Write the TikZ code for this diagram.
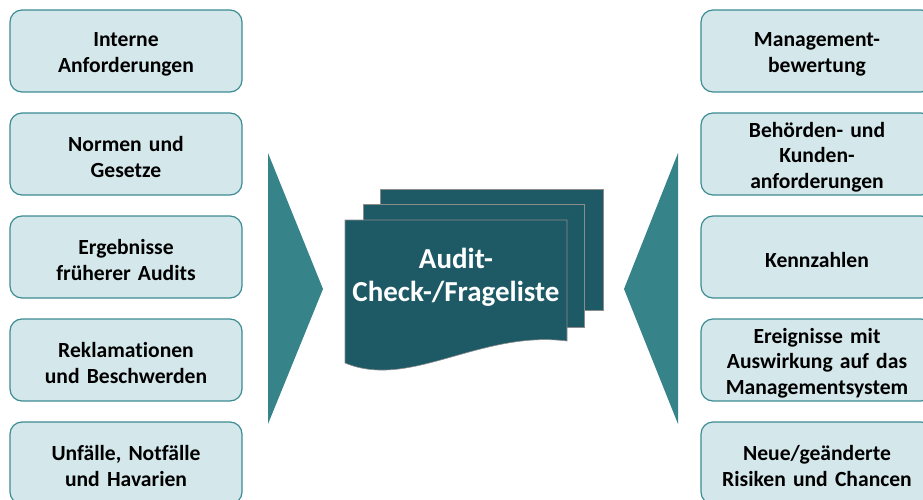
\documentclass[tikz,border=0pt]{standalone}
\usepackage{fontspec}
\setmainfont{Carlito}[Ligatures=NoCommon]
\usetikzlibrary{positioning}
\definecolor{boxfill}{HTML}{D4E7EA}
\definecolor{boxdraw}{HTML}{3C8C93}
\definecolor{wedgecol}{HTML}{368389}
\definecolor{doccol}{HTML}{1D5A66}
\tikzset{
  inbox/.style={
    rectangle,rounded corners=12pt,draw=boxdraw,fill=boxfill,line width=1.2pt,
    align=center,inner sep=2pt,minimum height=82pt,minimum width=232pt,
    text width=226pt,font=\fontsize{21.6}{25.5}\selectfont\bfseries,
    execute at begin node={\rule{0pt}{21pt}}
  },
  wedge/.style={fill=wedgecol},
  sheet/.style={fill=doccol,draw=black!45,line width=0.6pt},
  doctext/.style={
    align=center,inner sep=0pt,text=white,
    font=\fontsize{29}{33}\selectfont\bfseries
  }
}
\begin{document}
\begin{tikzpicture}[x=1pt,y=-1pt,node distance=19.8pt]
    \useasboundingbox (0,0) rectangle (923,500);

    % Eingaben links
    \node[inbox] (intern) at (126,51) {Interne\\Anforderungen};
    \node[inbox,below=of intern] (normen) {Normen und\\Gesetze};
    \node[inbox,below=of normen] (audits) {Ergebnisse\\früherer Audits};
    \node[inbox,below=of audits] (reklam) {Reklamationen\\und Beschwerden};
    \node[inbox,below=of reklam] (unfall) {Unfälle, Notfälle\\und Havarien};

    % Eingaben rechts
    \node[inbox] (mgmt) at (817,51) {Management-\\bewertung};
    \node[inbox,below=of mgmt] (kunden) {Behörden- und\\Kunden-\\anforderungen};
    \node[inbox,below=of kunden] (kennz) {Kennzahlen};
    \node[inbox,below=of kennz] (ereign) {Ereignisse mit\\Auswirkung auf das\\Managementsystem};
    \node[inbox,below=of ereign] (risiken) {Neue/geänderte\\Risiken und Chancen};

    % Keile
    \fill[wedge] (268,153) -- (323,289) -- (268,424) -- cycle;
    \fill[wedge] (678,153) -- (624,289) -- (678,424) -- cycle;

    % Dokumentstapel
    \filldraw[sheet] (380,189) rectangle (603,310);
    \filldraw[sheet] (363,204) rectangle (584,327);
    \filldraw[sheet] (345,220) -- (567,220) -- (567,341)
      .. controls (480,330) and (410,390) .. (345,363) -- cycle;
    \node[doctext] (liste) at (456,277) {Audit-\\Check-/Frageliste};
  \end{tikzpicture}
\end{document}
